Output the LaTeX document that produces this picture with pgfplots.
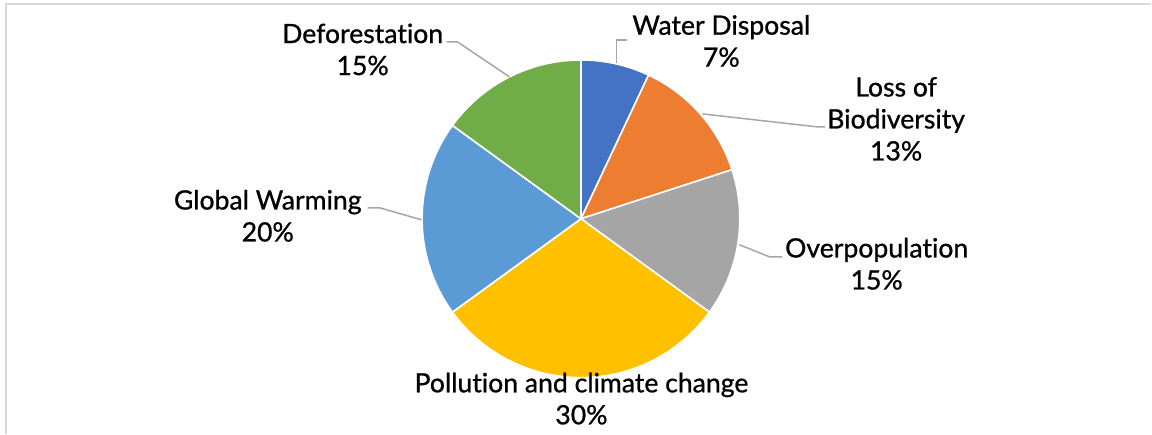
\documentclass[border=0pt]{standalone}
\usepackage{pgfplots}
\pgfplotsset{compat=1.18}
\usepackage{fontspec}
\setmainfont{Lato}
\newfontfamily\lblfont{Lato}[FakeBold=0.9, Ligatures=NoCommon]
\definecolor{cWD}{HTML}{4472C4}
\definecolor{cLB}{HTML}{ED7D31}
\definecolor{cOP}{HTML}{A5A5A5}
\definecolor{cPC}{HTML}{FFC000}
\definecolor{cGW}{HTML}{5B9BD5}
\definecolor{cDF}{HTML}{70AD47}
\definecolor{lead}{HTML}{A6A6A6}
\definecolor{frame}{HTML}{D9D9D9}
\begin{document}
\begin{tikzpicture}
\begin{axis}[
  width=576bp, height=217bp, scale only axis,
  xmin=0, xmax=1152, ymin=0, ymax=434,
  hide axis, clip=false,
]
\path (axis cs:0,0) (axis cs:1152,434);
% frame
\addplot[draw=frame, line width=1.1bp, no marks] coordinates {(6,0) (6,430) (1152,430)};
% pie slices from the values (percent)
\gdef\cum{0}
\foreach \v/\c in {7/cWD,13/cLB,15/cOP,30/cPC,20/cGW,15/cDF}{
  \pgfmathsetmacro\s{90-3.6*\cum}
  \pgfmathsetmacro\e{90-3.6*(\cum+\v)}
  \pgfmathsetmacro\n{\cum+\v}
  \xdef\cum{\n}
  \edef\temp{\noexpand\filldraw[fill=\c, draw=white, line width=0.8bp, line join=round] (axis cs:581.5,215) -- ++(\s:79.5bp) arc[start angle=\s, end angle=\e, radius=79.5bp] -- cycle;}
  \temp
}
% leader lines
\addplot[draw=lead, line width=0.75bp, no marks] coordinates {(617,371) (617,394) (628,394)};
\addplot[draw=lead, line width=0.75bp, no marks] coordinates {(703,320) (818,307) (826,307)};
\addplot[draw=lead, line width=0.75bp, no marks] coordinates {(740,189) (770,177) (783,177)};
\addplot[draw=lead, line width=0.75bp, no marks] coordinates {(368,226) (380,226) (422,214)};
\addplot[draw=lead, line width=0.75bp, no marks] coordinates {(447,392) (458,392) (510,357)};
% labels
\tikzset{lbl/.style={align=center, inner sep=0pt, font=\lblfont\fontsize{13.3bp}{16bp}\selectfont}}
\node[lbl] at (axis cs:722,393) {Water Disposal\\7\%};
\node[lbl] at (axis cs:897,315) {Loss of\\Biodiversity\\13\%};
\node[lbl] at (axis cs:877.5,170) {Overpopulation\\15\%};
\node[lbl] at (axis cs:582,35) {Pollution and climate change\\30\%};
\node[lbl] at (axis cs:268,218) {Global Warming\\20\%};
\node[lbl] at (axis cs:363,384.5) {Deforestation\\15\%};
\end{axis}
\end{tikzpicture}
\end{document}
